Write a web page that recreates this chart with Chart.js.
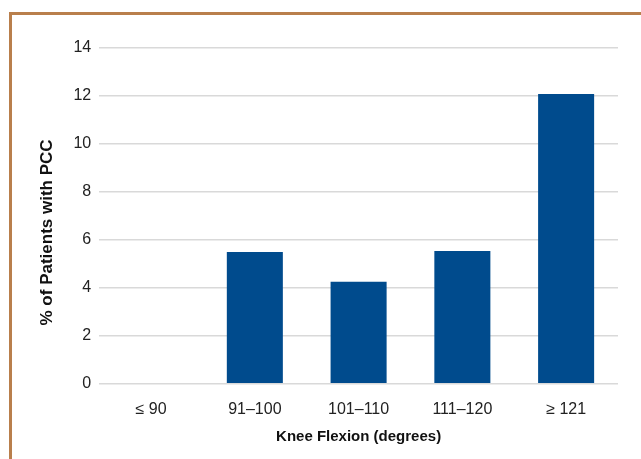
<!DOCTYPE html>
<html>
<head>
<meta charset="utf-8">
<script src="https://cdn.jsdelivr.net/npm/chart.js@4"></script>
<style>
  html, body { margin: 0; padding: 0; background: #fff; }
  #frame {
    position: absolute; left: 0; top: 0; width: 641px; height: 459px;
  }
  #edge {
    position: absolute; left: 9px; top: 12px; right: 0; bottom: 0;
    border-top: 3px solid #b97f4c; border-left: 3px solid #b97f4c;
  }
  canvas { position: absolute; left: 0; top: 0; }
</style>
</head>
<body>
<div id="frame">
  <div id="edge"></div>
  <canvas id="chart" width="641" height="459"></canvas>
</div>
<script>
const categories = ['\u2264 90', '91\u2013100', '101\u2013110', '111\u2013120', '\u2265 121'];
const pccPercent = [0, 5.5, 4.25, 5.54, 12.08];
const yTicks = [0, 2, 4, 6, 8, 10, 12, 14];

const fontFamily = '"Liberation Sans", Arial, sans-serif';

// the y title in the original sits a bit below the middle of the axis,
// trailing spaces push it down without a custom plugin
const yTitle = '% of Patients with PCC' + '\u00a0'.repeat(7);

new Chart(document.getElementById('chart'), {
    type: 'bar',
    data: {
        labels: categories,
        datasets: [{
            label: '% of Patients with PCC',
            data: pccPercent,
            backgroundColor: '#004b8d',
            borderWidth: 0,
            barPercentage: 0.54,
            categoryPercentage: 1
        }]
    },
    options: {
        responsive: false,
        animation: false,
        layout: {
            padding: { left: 37, right: 23, top: 48, bottom: 13 }
        },
        plugins: {
            legend: { display: false },
            tooltip: { enabled: false }
        },
        scales: {
            x: {
                grid: { display: false },
                border: { display: false },
                ticks: {
                    color: '#222',
                    font: { family: fontFamily, size: 16 },
                    padding: 8
                },
                title: {
                    display: true,
                    text: 'Knee Flexion (degrees)',
                    color: '#111',
                    font: { family: fontFamily, size: 15, weight: 'bold' },
                    padding: { top: 1, bottom: 0 }
                }
            },
            y: {
                min: 0,
                max: 14,
                afterBuildTicks: axis => {
                    axis.ticks = yTicks.map(v => ({ value: v }));
                },
                grid: {
                    color: '#d9d9d9',
                    lineWidth: 1.5,
                    drawTicks: false
                },
                border: { display: false },
                ticks: {
                    color: '#222',
                    font: { family: fontFamily, size: 16 },
                    padding: 8
                },
                title: {
                    display: true,
                    text: yTitle,
                    color: '#111',
                    font: { family: fontFamily, size: 17, weight: 'bold' },
                    padding: { top: 0, bottom: 8 }
                }
            }
        }
    }
});
</script>
</body>
</html>
